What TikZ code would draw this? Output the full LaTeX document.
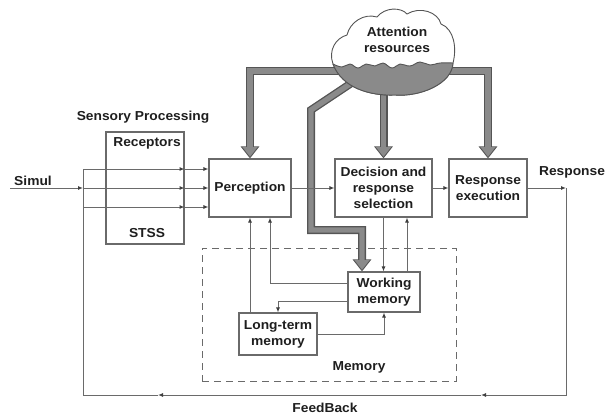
\documentclass[tikz,border=0pt]{standalone}
\usepackage{fontspec}
\setmainfont{Liberation Sans}[FakeStretch=1.06]
\usetikzlibrary{arrows.meta}
\definecolor{linegray}{HTML}{6A6A6A}
\definecolor{txt}{HTML}{1E1E1E}
\definecolor{barfill}{HTML}{8A8A8A}
\definecolor{baredge}{HTML}{555555}

\begin{document}
\begin{tikzpicture}[x=1pt,y=-1pt,
  every node/.style={font=\fontsize{13}{16}\selectfont\bfseries, text=txt},
  box/.style={draw=linegray, line width=1.1pt, align=center, inner sep=0pt, fill=white},
  conn/.style={draw=linegray, line width=1pt},
  arr/.style={conn, -{Latex[length=5pt,width=4pt,color=black!75]}},
  thickout/.style={draw=baredge, line width=8pt, -{Triangle[length=12pt,width=18pt]}},
  thickin/.style={draw=barfill, line width=5.4pt, shorten >=1.7pt, -{Triangle[length=9.6pt,width=14.4pt]}},
  memstyle/.style={draw=linegray, line width=1pt, dash pattern=on 7pt off 5pt},
]
\useasboundingbox (0,0) rectangle (611,415);

% memory area
\node[memstyle, minimum width=254pt, minimum height=133pt, inner sep=0pt] (membox) at (329,314.5) {};
\node (memlab) at (359,367) {Memory};

% boxes
\node[box, minimum width=78pt, minimum height=112pt] (sens) at (145,188) {};
\node (sp) at (143,117) {Sensory Processing};
\node (rcp) at (147,143) {Receptors};
\node (stss) at (147,233) {STSS};
\node[box, minimum width=82pt, minimum height=58pt] (perc) at (250,188) {Perception};
\node[box, minimum width=97pt, minimum height=58pt] (dec) at (383.5,188) {Decision and\\response\\selection};
\node[box, minimum width=78pt, minimum height=58pt] (rex) at (488,188) {Response\\execution};
\node[box, minimum width=72pt, minimum height=40pt] (wm) at (384,292) {Working\\memory};
\node[box, minimum width=78pt, minimum height=42pt] (ltm) at (278,334) {Long-term\\memory};

\node (simul) at (33,181) {Simul};
\node (rlab) at (572,172) {Response};
\node (fb) at (325,408) {FeedBack};

% attention resource bars
\coordinate (cl) at (393,71);
\coordinate (dg0) at (365,74);
\coordinate (dg1) at (311,110);
\coordinate (dg2) at (311,230);
\coordinate (wmin) at ([xshift=-22pt]wm.north);
\foreach \s in {thickout,thickin}{
  \draw[\s] (cl) -| (perc.north);
  \draw[\s] (cl) -| (rex.north);
  \draw[\s] (dec.north |- cl) -- (dec.north);
  \draw[\s] (dg0) -- (dg1) -- (dg2) -| (wmin);
}

% cloud
\draw[fill=white, draw=baredge, line width=0.9pt]
  (333,64) .. controls (328,50) and (336,38) .. (347,35)
  .. controls (350,22) and (364,13) .. (377,17)
  .. controls (385,7) and (401,7) .. (407,14)
  .. controls (420,6) and (438,12) .. (441,24)
  .. controls (454,29) and (457,48) .. (453,63)
  .. controls (452,84) and (420,97) .. (395,95)
  .. controls (370,96) and (342,88) .. (333,64) -- cycle;
\fill[barfill] plot[smooth, tension=0.7] coordinates {(333,64) (342,67) (350,64) (358,68) (366,64) (375,66) (383,63) (392,68) (400,64) (410,66) (420,62) (430,65) (440,63) (453,63)}
  .. controls (452,84) and (420,97) .. (395,95)
  .. controls (370,96) and (342,88) .. (333,64) -- cycle;
\draw[draw=baredge, line width=0.9pt] plot[smooth, tension=0.7] coordinates {(333,64) (342,67) (350,64) (358,68) (366,64) (375,66) (383,63) (392,68) (400,64) (410,66) (420,62) (430,65) (440,63) (453,63)};
\draw[draw=baredge, line width=0.9pt]
  (453,63) .. controls (452,84) and (420,97) .. (395,95)
  .. controls (370,96) and (342,88) .. (333,64);
\node[align=center] (attlab) at (397,40) {Attention\\resources};

% sensory inputs
\coordinate (fbL) at (83,395);
\coordinate (fbR) at (566,395);
\coordinate (in1) at ([yshift=19pt]perc.west);
\coordinate (in2) at (perc.west);
\coordinate (in3) at ([yshift=-19pt]perc.west);
\coordinate (sstart) at (10,188);
\foreach \c in {in1,in2,in3}{
  \draw[arr] (\c -| fbL) -- (\c -| sens.east);
  \draw[arr] (\c -| sens.east) -- (\c);
}
\draw[arr] (sstart) -- (in2 -| fbL);

% main flow
\draw[arr] (perc.east) -- (dec.west);
\draw[arr] (dec.east) -- (rex.west);
\draw[arr] (rex.east) -- (rex.east -| fbR);

% feedback loop
\coordinate (fbm1) at (481,395);
\coordinate (fbm2) at (158,395);
\draw[arr] (rex.east -| fbR) -- (fbR) -- (fbm1);
\draw[arr] (fbm1) -- (fbm2);
\draw[conn] (fbm2) -- (fbL) -- (in1 -| fbL);

% memory links
\draw[arr] (dec.south) -- (dec.south |- wm.north);
\coordinate (wmup) at ([xshift=23pt]wm.north);
\draw[arr] (wmup) -- (wmup |- dec.south);
\coordinate (wmhi) at ([yshift=9pt]wm.west);
\coordinate (wmlo) at ([yshift=-9pt]wm.west);
\coordinate (pin) at ([xshift=20pt]perc.south);
\draw[arr] (wmhi) -| (pin);
\draw[arr] (wmlo) -| (ltm.north);
\draw[arr] (ltm.north -| perc.south) -- (perc.south);
\draw[arr] (ltm.east) -| (wm.south);
\end{tikzpicture}
\end{document}
